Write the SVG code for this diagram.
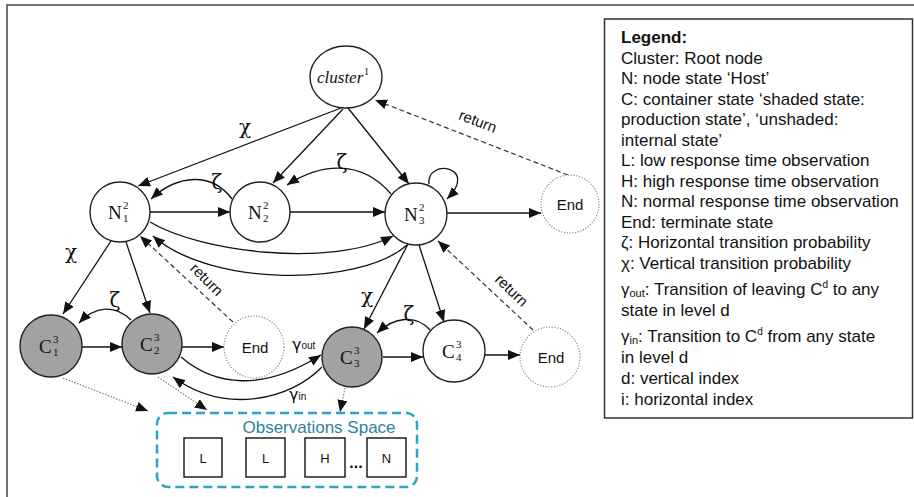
<svg xmlns="http://www.w3.org/2000/svg" width="914" height="497" viewBox="0 0 914 497">
<style>
.node{fill:#fff;stroke:#222;stroke-width:1.4}
.shaded{fill:#a2a2a2;stroke:#222;stroke-width:1.4}
.end{fill:#fff;stroke:#8a8a8a;stroke-width:1.2;stroke-dasharray:1.2 1.6}
.ml{font-family:"Liberation Serif","DejaVu Serif",serif;font-size:19px;fill:#111}
.ix{font-family:"Liberation Serif","DejaVu Serif",serif;font-size:11px;fill:#111}
.et{font-family:"Liberation Sans",Arial,sans-serif;font-size:15px;fill:#111;text-anchor:middle}
.ln{fill:none;stroke:#111;stroke-width:1.3}
.dash{fill:none;stroke:#333;stroke-width:1.2;stroke-dasharray:5 3}
.dot{fill:none;stroke:#777;stroke-width:1.1;stroke-dasharray:1.5 1.5}
.gr{font-family:"DejaVu Serif","Liberation Serif",serif;font-size:20px;fill:#111;text-anchor:middle}
.rt{font-family:"Liberation Sans",Arial,sans-serif;font-size:15px;fill:#111;text-anchor:middle}
.lg{font-family:"Liberation Sans",Arial,sans-serif;font-size:17px;fill:#111}
.ob{fill:#fff;stroke:#111;stroke-width:1.4}
.obt{font-family:"Liberation Sans",Arial,sans-serif;font-size:13px;fill:#111;text-anchor:middle}
</style>
<defs>
<marker id="ah" viewBox="0 0 12 10" refX="12" refY="5" markerWidth="12" markerHeight="10" markerUnits="userSpaceOnUse" orient="auto">
<path d="M0,0 L12,5 L0,10 Z" fill="#111"/>
</marker>
</defs>
<rect width="914" height="497" fill="#fff"/>
<path d="M7,497 V5 H914" fill="none" stroke="#444" stroke-width="1.5"/>

<g id="connectors">
<path class="ln" d="M341,108 L138,186" marker-end="url(#ah)"/>
<path class="ln" d="M343,109 L273,183" marker-end="url(#ah)"/>
<path class="ln" d="M348,108 L409,184" marker-end="url(#ah)"/>
<path class="dash" d="M568,175 L375,100" marker-end="url(#ah)"/>
<path class="ln" d="M150,212 L230,212" marker-end="url(#ah)"/>
<path class="ln" d="M290,212 L385,212" marker-end="url(#ah)"/>
<path class="ln" d="M447,213 L541,213" marker-end="url(#ah)"/>
<path class="ln" d="M232,199 C212,172 178,174 151,199" marker-end="url(#ah)"/>
<path class="ln" d="M391,194 C362,160 322,162 287,185" marker-end="url(#ah)"/>
<path class="ln" d="M429,184 C426,158 480,166 447,199" marker-end="url(#ah)"/>
<path class="ln" d="M150,222 C200,252 330,268 393,236" marker-end="url(#ah)"/>
<path class="ln" d="M407,245 C360,287 210,287 153,236" marker-end="url(#ah)"/>
<path class="ln" d="M111,241 L63,314" marker-end="url(#ah)"/>
<path class="ln" d="M126,242 L150,313" marker-end="url(#ah)"/>
<path class="ln" d="M408,244 L364,329" marker-end="url(#ah)"/>
<path class="ln" d="M419,245 L444,322" marker-end="url(#ah)"/>
<path class="dash" d="M233,322 L140,236" marker-end="url(#ah)"/>
<path class="dash" d="M533,330 L438,241" marker-end="url(#ah)"/>
<path class="ln" d="M82,347 L122,347" marker-end="url(#ah)"/>
<path class="ln" d="M182,347 L224,347" marker-end="url(#ah)"/>
<path class="ln" d="M131,320 C115,304 95,306 79,323" marker-end="url(#ah)"/>
<path class="ln" d="M181,357 C215,386 262,392 321,355" marker-end="url(#ah)"/>
<path class="ln" d="M322,367 C290,400 225,415 173,377" marker-end="url(#ah)"/>
<path class="ln" d="M383,357 L423,357" marker-end="url(#ah)"/>
<path class="ln" d="M430,330 C416,314 394,317 377,333" marker-end="url(#ah)"/>
<path class="ln" d="M485,355 L520,355" marker-end="url(#ah)"/>
<path class="dot" d="M63,378 L148,411" marker-end="url(#ah)"/>
<path class="dot" d="M158,377 L207,410" marker-end="url(#ah)"/>
<path class="dot" d="M345,388 L340,412" marker-end="url(#ah)"/>
<text class="gr" x="245" y="134">χ</text>
<text class="gr" x="217" y="189">ζ</text>
<text class="gr" x="342" y="169">ζ</text>
<text class="gr" x="71" y="259">χ</text>
<text class="gr" x="115" y="307">ζ</text>
<text class="gr" x="367" y="303">χ</text>
<text class="gr" x="409" y="321">ζ</text>
<text class="rt" transform="translate(476,126) rotate(21)">return</text>
<text class="rt" transform="translate(203,283) rotate(45)">return</text>
<text class="rt" transform="translate(508,294) rotate(44)">return</text>
<text x="292" y="350" font-family="DejaVu Sans, sans-serif" font-size="16" fill="#111">γ<tspan font-size="10" font-family="Liberation Sans, sans-serif" dy="-1">out</tspan></text>
<text x="289" y="400" font-family="DejaVu Sans, sans-serif" font-size="16" fill="#111">γ<tspan font-size="10" font-family="Liberation Sans, sans-serif" dy="0">in</tspan></text>
</g>

<g id="cluster">
<ellipse class="node" cx="346" cy="77" rx="36" ry="31"/>
<text x="317" y="83" font-family="Liberation Serif, serif" font-style="italic" font-size="17" fill="#111">cluster</text>
<text x="364" y="75" font-family="Liberation Serif, serif" font-size="10" fill="#111">1</text>
</g>

<g id="N1">
<circle class="node" cx="120" cy="212" r="30"/>
<text class="ml" x="108" y="219">N</text><text class="ix" x="123" y="209">2</text><text class="ix" x="123" y="222">1</text>
</g>
<g id="N2">
<circle class="node" cx="260" cy="212" r="30"/>
<text class="ml" x="248" y="219">N</text><text class="ix" x="263" y="209">2</text><text class="ix" x="263" y="222">2</text>
</g>
<g id="N3">
<circle class="node" cx="416" cy="214" r="31"/>
<text class="ml" x="404" y="221">N</text><text class="ix" x="419" y="211">2</text><text class="ix" x="419" y="224">3</text>
</g>
<g id="End1">
<ellipse class="end" cx="570" cy="204" rx="29" ry="29"/>
<text class="et" x="570" y="210">End</text>
</g>

<g id="C1">
<circle class="shaded" cx="51" cy="346" r="31"/>
<text class="ml" x="39" y="353">C</text><text class="ix" x="53" y="343">3</text><text class="ix" x="53" y="356">1</text>
</g>
<g id="C2">
<circle class="shaded" cx="152" cy="344" r="30"/>
<text class="ml" x="140" y="351">C</text><text class="ix" x="154" y="341">3</text><text class="ix" x="154" y="354">2</text>
</g>
<g id="End2">
<ellipse class="end" cx="254" cy="347" rx="30" ry="31"/>
<text class="et" x="255" y="353">End</text>
</g>
<g id="C3">
<circle class="shaded" cx="352" cy="357" r="30"/>
<text class="ml" x="340" y="364">C</text><text class="ix" x="354" y="354">3</text><text class="ix" x="354" y="367">3</text>
</g>
<g id="C4">
<circle class="node" cx="454" cy="351" r="31"/>
<text class="ml" x="442" y="358">C</text><text class="ix" x="456" y="348">3</text><text class="ix" x="456" y="361">4</text>
</g>
<g id="End3">
<ellipse class="end" cx="550" cy="357" rx="30" ry="30"/>
<text class="et" x="551" y="363">End</text>
</g>

<g id="observations">
<rect x="157" y="413" width="260" height="74" rx="11" fill="none" stroke="#2aa5c9" stroke-width="2.5" stroke-dasharray="9 5"/>
<text x="319" y="433" font-family="Liberation Sans, sans-serif" font-size="17" fill="#2f7f9c" text-anchor="middle">Observations Space</text>
<rect class="ob" x="184" y="438" width="38" height="39"/><text class="obt" x="203" y="463">L</text>
<rect class="ob" x="246" y="438" width="39" height="39"/><text class="obt" x="265.5" y="463">L</text>
<rect class="ob" x="305" y="438" width="40" height="39"/><text class="obt" x="325" y="463">H</text>
<text x="356" y="468" font-family="Liberation Sans, sans-serif" font-size="16" font-weight="bold" fill="#111" text-anchor="middle">...</text>
<rect class="ob" x="367" y="438" width="39" height="39"/><text class="obt" x="386.5" y="463">N</text>
</g>

<g id="legend">
<rect x="604.5" y="19" width="308" height="399" fill="#fff" stroke="#333" stroke-width="1.5"/>
<text class="lg" x="621" y="43" font-weight="bold">Legend:</text>
<text class="lg" x="621" y="63.5">Cluster: Root node</text>
<text class="lg" x="621" y="84">N: node state ‘Host’</text>
<text class="lg" x="621" y="104.5">C: container state ‘shaded state:</text>
<text class="lg" x="621" y="125">production state’, ‘unshaded:</text>
<text class="lg" x="621" y="145.5">internal state’</text>
<text class="lg" x="621" y="166">L: low response time observation</text>
<text class="lg" x="621" y="186.5">H: high response time observation</text>
<text class="lg" x="621" y="207">N: normal response time observation</text>
<text class="lg" x="621" y="227.5">End: terminate state</text>
<text class="lg" x="621" y="248">ζ: Horizontal transition probability</text>
<text class="lg" x="621" y="268.5">χ: Vertical transition probability</text>
<text class="lg" x="621" y="295">γ<tspan font-size="11" dy="2">out</tspan><tspan dy="-2">: Transition of leaving C</tspan><tspan font-size="10" dy="-7">d</tspan><tspan dy="7"> to any</tspan></text>
<text class="lg" x="621" y="315.5">state in level d</text>
<text class="lg" x="621" y="342">γ<tspan font-size="11" dy="2">in</tspan><tspan dy="-2">: Transition to C</tspan><tspan font-size="10" dy="-7">d</tspan><tspan dy="7"> from any state</tspan></text>
<text class="lg" x="621" y="362.5">in level d</text>
<text class="lg" x="621" y="384">d: vertical index</text>
<text class="lg" x="621" y="404.5">i: horizontal index</text>
</g>
</svg>
